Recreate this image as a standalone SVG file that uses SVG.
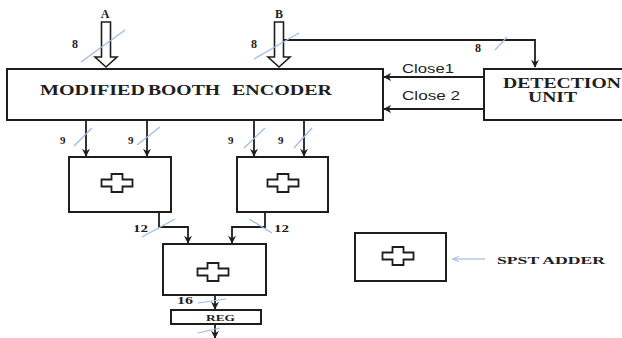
<svg xmlns="http://www.w3.org/2000/svg" width="622" height="338" viewBox="0 0 622 338">
<defs>
<style>
.box{fill:#fff;stroke:#1e1e1e;stroke-width:2}
.ln{fill:none;stroke:#1e1e1e;stroke-width:1.8}
.sl{fill:none;stroke:#9dbbe3;stroke-width:1.2}
.hol{fill:#fff;stroke:#1e1e1e;stroke-width:1.6}
.plus{fill:#fff;stroke:#1e1e1e;stroke-width:1.8}
.t{font-family:"Liberation Serif",serif;font-weight:bold;fill:#1e1e1e}
.s{font-family:"Liberation Sans",sans-serif;fill:#1e1e1e}
</style>
<marker id="ah" viewBox="0 0 10 10" refX="9" refY="5" markerWidth="8" markerHeight="8" markerUnits="userSpaceOnUse" orient="auto">
<path d="M0,0 L10,5 L0,10 L3,5 Z" fill="#1e1e1e"/>
</marker>
<marker id="ahb" viewBox="0 0 10 10" refX="9" refY="5" markerWidth="7" markerHeight="7" markerUnits="userSpaceOnUse" orient="auto">
<path d="M0,1 L10,5 L0,9" fill="none" stroke="#9dbbe3" stroke-width="1.4"/>
</marker>
<path id="plus" d="M-5.5,-9 H5.5 V-3.5 H15.5 V3.5 H5.5 V9 H-5.5 V3.5 H-15.5 V-3.5 H-5.5 Z"/>
</defs>

<g id="connectors">
<path class="hol" d="M101.5,22 H110.5 V57 H117 L106,67 L95,57 H101.5 Z"/>
<path class="hol" d="M274.5,22 H283.5 V57 H290 L279,67 L268,57 H274.5 Z"/>
<path class="ln" d="M283.5,40 H535 V67" marker-end="url(#ah)"/>
<path class="ln" d="M484,77 H384" marker-end="url(#ah)"/>
<path class="ln" d="M484,109 H384" marker-end="url(#ah)"/>
<path class="ln" d="M86,120 V156" marker-end="url(#ah)"/>
<path class="ln" d="M147,120 V156" marker-end="url(#ah)"/>
<path class="ln" d="M254,120 V156" marker-end="url(#ah)"/>
<path class="ln" d="M304,120 V156" marker-end="url(#ah)"/>
<path class="ln" d="M159,212 V227 H188 V243" marker-end="url(#ah)"/>
<path class="ln" d="M265,212 V227 H232 V243" marker-end="url(#ah)"/>
<path class="ln" d="M215,295 V309" marker-end="url(#ah)"/>
<path class="ln" d="M215,324 V338" marker-end="url(#ah)"/>
<path class="sl" d="M485,259 H453" marker-end="url(#ahb)"/>
<path class="sl" d="M81,62 L125,30"/>
<path class="sl" d="M254,59 L299,33"/>
<path class="sl" d="M495,50 L507,37"/>
<path class="sl" d="M74,146 L92,128"/>
<path class="sl" d="M137,145 L160,127"/>
<path class="sl" d="M244,148 L265,128"/>
<path class="sl" d="M294,148 L312,128"/>
<path class="sl" d="M142,237 L175,219"/>
<path class="sl" d="M249,219 L272,233"/>
<path class="sl" d="M198,303 L226,299"/>
<path class="sl" d="M198,333 L220,328"/>
</g>

<g id="labels">
<text class="t" x="105" y="18" font-size="12" text-anchor="middle">A</text>
<text class="t" x="279" y="18" font-size="12" text-anchor="middle">B</text>
<text class="t" x="72" y="48" font-size="12">8</text>
<text class="t" x="251" y="48" font-size="12">8</text>
<text class="t" x="475" y="52" font-size="12">8</text>
<text class="s" x="402" y="73" font-size="13" textLength="52" lengthAdjust="spacingAndGlyphs">Close1</text>
<text class="s" x="402" y="100" font-size="13" textLength="58" lengthAdjust="spacingAndGlyphs">Close 2</text>
<text class="t" x="60" y="144" font-size="11">9</text>
<text class="t" x="128" y="144" font-size="11">9</text>
<text class="t" x="228" y="144" font-size="11">9</text>
<text class="t" x="278" y="144" font-size="11">9</text>
<text class="t" x="133" y="232" font-size="11" textLength="15" lengthAdjust="spacingAndGlyphs">12</text>
<text class="t" x="274" y="232" font-size="11" textLength="15" lengthAdjust="spacingAndGlyphs">12</text>
<text class="t" x="177" y="304" font-size="11" textLength="16" lengthAdjust="spacingAndGlyphs">16</text>
</g>

<g id="encoder">
<rect class="box" x="7" y="69" width="376" height="51"/>
<text class="t" x="40" y="95" font-size="15" textLength="105" lengthAdjust="spacingAndGlyphs">MODIFIED</text>
<text class="t" x="148" y="95" font-size="15" textLength="72" lengthAdjust="spacingAndGlyphs">BOOTH</text>
<text class="t" x="232" y="95" font-size="15" textLength="100" lengthAdjust="spacingAndGlyphs">ENCODER</text>
</g>

<g id="detection">
<rect class="box" x="484" y="69" width="150" height="51"/>
<text class="t" x="503" y="88" font-size="14" textLength="118" lengthAdjust="spacingAndGlyphs">DETECTION</text>
<text class="t" x="528" y="102" font-size="14" textLength="49" lengthAdjust="spacingAndGlyphs">UNIT</text>
</g>

<g id="adder1">
<rect class="box" x="69" y="157" width="102" height="55"/>
<use href="#plus" class="plus" x="117" y="183"/>
</g>

<g id="adder2">
<rect class="box" x="237" y="157" width="91" height="55"/>
<use href="#plus" class="plus" x="283" y="183"/>
</g>

<g id="adder3">
<rect class="box" x="163" y="244" width="103" height="51"/>
<use href="#plus" class="plus" x="213" y="272"/>
</g>

<g id="reg">
<rect class="box" x="171" y="310" width="90" height="14"/>
<text class="t" x="206" y="321" font-size="9" textLength="29" lengthAdjust="spacingAndGlyphs">REG</text>
</g>

<g id="legend">
<rect class="box" x="355" y="233" width="91" height="48"/>
<use href="#plus" class="plus" x="398" y="256"/>
<text class="t" x="497" y="264" font-size="11" textLength="108" lengthAdjust="spacingAndGlyphs">SPST ADDER</text>
</g>
</svg>
